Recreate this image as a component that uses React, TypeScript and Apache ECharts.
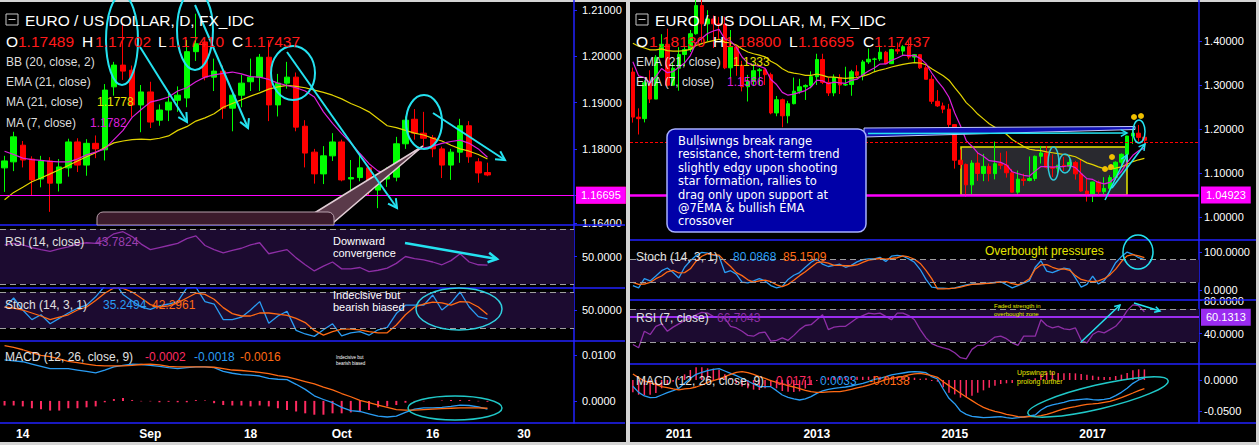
import React, { useEffect, useRef } from 'react';
import * as echarts from 'echarts';

const FONT = '"Liberation Sans", Arial, Helvetica, sans-serif';

// ---------------- DAILY (left) ----------------
const dailyDates = [
  '2017-08-10','2017-08-11','2017-08-14','2017-08-15','2017-08-16','2017-08-17','2017-08-18','2017-08-21','2017-08-22','2017-08-23',
  '2017-08-24','2017-08-25','2017-08-28','2017-08-29','2017-08-30','2017-08-31','2017-09-01','2017-09-04','2017-09-05','2017-09-06',
  '2017-09-07','2017-09-08','2017-09-11','2017-09-12','2017-09-13','2017-09-14','2017-09-15','2017-09-18','2017-09-19','2017-09-20',
  '2017-09-21','2017-09-22','2017-09-25','2017-09-26','2017-09-27','2017-09-28','2017-09-29','2017-10-02','2017-10-03','2017-10-04',
  '2017-10-05','2017-10-06','2017-10-09','2017-10-10','2017-10-11','2017-10-12','2017-10-13','2017-10-16','2017-10-17','2017-10-18',
  '2017-10-19','2017-10-20','2017-10-23','2017-10-24','2017-10-25','2017-10-26','2017-10-27','2017-10-30','2017-10-31','2017-11-01',
  '2017-11-02','2017-11-03','2017-11-06'
];
const dailyTickLabels: Record<number, string> = { 2: '14', 16: 'Sep', 27: '18', 37: 'Oct', 47: '16', 57: '30' };

// [open, close, low, high]
const dailyCandles = [
  [1.1759,1.1774,1.1707,1.1785],[1.1772,1.1826,1.1752,1.1837],[1.1808,1.1776,1.1760,1.1817],[1.1778,1.1733,1.1700,1.1784],
  [1.1735,1.1774,1.1717,1.1785],[1.1774,1.1726,1.1664,1.1782],[1.1726,1.1761,1.1708,1.1778],[1.1759,1.1815,1.1740,1.1822],
  [1.1815,1.1765,1.1750,1.1823],[1.1765,1.1812,1.1742,1.1821],[1.1812,1.1800,1.1780,1.1829],[1.1798,1.1927,1.1775,1.1940],
  [1.1934,1.1981,1.1915,1.1988],[1.1981,1.1968,1.1949,1.2068],[1.1970,1.1895,1.1869,1.1980],[1.1895,1.1923,1.1836,1.1938],
  [1.1923,1.1858,1.1845,1.1945],[1.1862,1.1884,1.1850,1.1896],[1.1884,1.1901,1.1860,1.1925],[1.1905,1.1916,1.1880,1.1935],
  [1.1910,1.2010,1.1890,1.2035],[1.2010,1.2027,1.1990,1.2092],[1.2031,1.1955,1.1948,1.2035],[1.1955,1.1968,1.1925,1.1995],
  [1.1968,1.1888,1.1865,1.1980],[1.1888,1.1916,1.1838,1.1925],[1.1916,1.1942,1.1890,1.1960],[1.1945,1.1955,1.1925,1.1995],
  [1.1955,1.1998,1.1925,1.2005],[1.1998,1.1895,1.1860,1.2035],[1.1895,1.1942,1.1870,1.1962],[1.1942,1.1955,1.1930,1.1988],
  [1.1955,1.1847,1.1838,1.1965],[1.1849,1.1791,1.1760,1.1862],[1.1793,1.1746,1.1725,1.1800],[1.1746,1.1785,1.1724,1.1806],
  [1.1785,1.1815,1.1774,1.1834],[1.1815,1.1733,1.1730,1.1820],[1.1735,1.1738,1.1696,1.1776],[1.1738,1.1759,1.1730,1.1791],
  [1.1759,1.1710,1.1700,1.1763],[1.1711,1.1727,1.1672,1.1740],[1.1735,1.1741,1.1718,1.1760],[1.1739,1.1811,1.1730,1.1826],
  [1.1811,1.1862,1.1800,1.1870],[1.1864,1.1834,1.1820,1.1886],[1.1834,1.1823,1.1805,1.1880],[1.1824,1.1800,1.1782,1.1830],
  [1.1800,1.1765,1.1737,1.1805],[1.1765,1.1793,1.1733,1.1800],[1.1793,1.1850,1.1770,1.1865],[1.1850,1.1783,1.1770,1.1860],
  [1.1772,1.1748,1.1727,1.1780],[1.17489,1.17437,1.17410,1.17702]
];
const dailyMA21 = [1.1690,1.1706,1.1717,1.1729,1.1737,1.1746,1.1755,1.1764,1.1774,1.1783,1.1792,1.1803,1.1813,1.1817,1.1820,1.1821,1.1820,1.1823,1.1828,1.1840,1.1848,1.1860,1.1867,1.1876,1.1890,1.1898,1.1906,1.1914,1.1921,1.1929,1.1934,1.1937,1.1935,1.1932,1.1927,1.1922,1.1916,1.1908,1.1898,1.1890,1.1880,1.1865,1.1850,1.1846,1.1840,1.1834,1.1830,1.1823,1.1817,1.1808,1.1800,1.1795,1.1788,1.1778];
const dailyMA7 = [1.1795,1.1788,1.1780,1.1777,1.1775,1.1773,1.1772,1.1772,1.1778,1.1787,1.1793,1.1800,1.1820,1.1840,1.1868,1.1885,1.1901,1.1906,1.1912,1.1925,1.1932,1.1945,1.1955,1.1960,1.1963,1.1966,1.1962,1.1956,1.1955,1.1950,1.1942,1.1937,1.1932,1.1925,1.1912,1.1880,1.1855,1.1833,1.1813,1.1790,1.1768,1.1752,1.1748,1.1762,1.1780,1.1795,1.1802,1.1806,1.1812,1.1816,1.1819,1.1812,1.1800,1.1782];
const dailyRSI = [58.5,59.5,58.5,56.5,55,53.8,55.5,57,59,60,59.5,62,66.5,68,64.5,59,55,56.5,58,59.5,63,65,58,55,52.7,54.5,56,58.5,60,52,53.5,55,49,44,39.5,43,46,41,41,42,39,40,41.5,45,50,48.5,47.5,46,44,47,52,46,44,43.7824];
const dailyStochK = [54,70,50,34,42,27,36,45,53,58,72,90,98,76,65,55,51,57,60,64,87,88,64,60,34,34,38,50,64,28,40,48,16,10,6,17,27,7,12,14,8,17,21,44,58,58,58,75,50,62,80,55,39,35.2494];
const dailyStochD = [55,53,50,45,40,34,38,42,50,55,66,78,87,86,80,70,59,55,57,62,70,78,76,68,54,44,40,40,45,45,43,41,36,29,16,8,14,18,18,17,14,12,12,25,42,55,60,63,62,58,64,63,55,42.2961];
const dailyMACD = [0.0089,0.0087,0.0085,0.0080,0.0075,0.0070,0.0070,0.0070,0.0067,0.0064,0.0061,0.0067,0.0074,0.0077,0.0080,0.0079,0.0077,0.0075,0.0072,0.0070,0.0072,0.0074,0.0074,0.0072,0.0064,0.0060,0.0057,0.0056,0.0054,0.0049,0.0047,0.0046,0.0036,0.0025,0.0011,0.0003,-0.0004,-0.0014,-0.0021,-0.0023,-0.0028,-0.0033,-0.0035,-0.0033,-0.0025,-0.0018,-0.0015,-0.0015,-0.0014,-0.0012,-0.0009,-0.0010,-0.0013,-0.0018];
const dailySignal = [0.0120,0.0116,0.0111,0.0105,0.0099,0.0096,0.0091,0.0086,0.0083,0.0080,0.0077,0.0076,0.0076,0.0076,0.0077,0.0079,0.0080,0.0078,0.0075,0.0074,0.0074,0.0074,0.0074,0.0073,0.0070,0.0067,0.0066,0.0064,0.0062,0.0059,0.0055,0.0052,0.0047,0.0042,0.0037,0.0030,0.0024,0.0016,0.0009,0.0001,-0.0004,-0.0009,-0.0014,-0.0019,-0.0020,-0.0020,-0.0019,-0.0018,-0.0017,-0.0016,-0.0015,-0.0015,-0.0015,-0.0016];
const dailyHist = [-0.0010,-0.0010,-0.0012,-0.0016,-0.0018,-0.0021,-0.0021,-0.0016,-0.0016,-0.0014,-0.0012,-0.0003,0.0004,0.0006,0.0002,-0.0001,-0.0001,-0.0003,-0.0002,-0.0003,-0.0003,0.0002,0.0001,-0.0005,-0.0009,-0.0010,-0.0010,-0.0012,-0.0010,-0.0012,-0.0016,-0.0020,-0.0023,-0.0027,-0.0030,-0.0030,-0.0027,-0.0027,-0.0025,-0.0023,-0.0020,-0.0014,-0.0012,-0.0009,-0.0004,-0.0002,-0.0001,0,0.0001,0.0002,0.0002,0.0002,-0.0001,-0.0002];

// ---------------- MONTHLY (right) ----------------
const monthlyDates: string[] = [];
for (let k = 0; k < 99; k++) {
  const y = 2010 + Math.floor((4 + k) / 12);
  const m = ((4 + k) % 12) + 1;
  monthlyDates.push(`${y}-${m < 10 ? '0' + m : m}`);
}
const monthlyTickLabels: Record<number, string> = { 8: '2011', 32: '2013', 56: '2015', 80: '2017' };

const monthlyCandles = [
  [1.3295,1.2270,1.2145,1.3395],[1.2270,1.2235,1.1875,1.2470],[1.2235,1.3050,1.2150,1.3105],[1.3050,1.2680,1.2590,1.3335],
  [1.2680,1.3630,1.2680,1.3680],[1.3630,1.3925,1.3620,1.4155],[1.3925,1.2995,1.2970,1.4280],[1.2995,1.3380,1.3000,1.3500],
  [1.3380,1.3695,1.2870,1.3860],[1.3695,1.3805,1.3430,1.3860],[1.3805,1.4165,1.3750,1.4250],[1.4165,1.4805,1.4145,1.4940],
  [1.4805,1.4390,1.3965,1.4940],[1.4390,1.4500,1.4000,1.4700],[1.4500,1.4390,1.3840,1.4580],[1.4390,1.4375,1.4050,1.4550],
  [1.4375,1.3390,1.3360,1.4550],[1.3390,1.3860,1.3145,1.4250],[1.3860,1.3445,1.3210,1.3870],[1.3445,1.2960,1.2855,1.3550],
  [1.2960,1.3080,1.2625,1.3230],[1.3080,1.3325,1.2975,1.3485],[1.3325,1.3345,1.3000,1.3385],[1.3345,1.3235,1.3000,1.3360],
  [1.3235,1.2365,1.2335,1.3280],[1.2365,1.2665,1.2290,1.2750],[1.2665,1.2300,1.2040,1.2690],[1.2300,1.2575,1.2130,1.2640],
  [1.2575,1.2860,1.2560,1.3170],[1.2860,1.2960,1.2800,1.3140],[1.2960,1.2990,1.2660,1.3015],[1.2990,1.3190,1.2925,1.3310],
  [1.3190,1.3580,1.3000,1.3710],[1.3580,1.3060,1.3020,1.3710],[1.3060,1.2820,1.2750,1.3160],[1.2820,1.3170,1.2745,1.3240],
  [1.3170,1.3000,1.2795,1.3245],[1.3000,1.3010,1.2980,1.3415],[1.3010,1.3300,1.2755,1.3345],[1.3300,1.3220,1.3175,1.3450],
  [1.3220,1.3525,1.3105,1.3570],[1.3525,1.3585,1.3480,1.3830],[1.3585,1.3590,1.3295,1.3620],[1.3590,1.3745,1.3545,1.3895],
  [1.3745,1.3485,1.3475,1.3775],[1.3485,1.3805,1.3475,1.3825],[1.3805,1.3770,1.3705,1.3965],[1.3770,1.3870,1.3675,1.3905],
  [1.3870,1.3635,1.3585,1.3995],[1.3635,1.3690,1.3505,1.3700],[1.3690,1.3390,1.3365,1.3700],[1.3390,1.3130,1.3130,1.3445],
  [1.3130,1.2630,1.2570,1.3220],[1.2630,1.2525,1.2500,1.2885],[1.2525,1.2450,1.2360,1.2600],[1.2450,1.2100,1.2035,1.2570],
  [1.2100,1.1290,1.1100,1.2105],[1.1290,1.1195,1.1100,1.1535],[1.1195,1.0730,1.0460,1.1215],[1.0730,1.1225,1.0520,1.1290],
  [1.1225,1.0990,1.0820,1.1465],[1.0990,1.1150,1.0815,1.1435],[1.1150,1.0985,1.0810,1.1215],[1.0985,1.1210,1.0855,1.1715],
  [1.1210,1.1175,1.1085,1.1460],[1.1175,1.1005,1.0895,1.1495],[1.1005,1.0565,1.0560,1.1090],[1.0565,1.0860,1.0525,1.1055],
  [1.0860,1.0830,1.0710,1.0985],[1.0830,1.0875,1.0810,1.1375],[1.0875,1.1380,1.0820,1.1395],[1.1380,1.1455,1.1215,1.1615],
  [1.1455,1.1130,1.1100,1.1615],[1.1130,1.1105,1.0910,1.1425],[1.1105,1.1175,1.0950,1.1185],[1.1175,1.1155,1.1045,1.1365],
  [1.1155,1.1240,1.1120,1.1325],[1.1240,1.0980,1.0850,1.1275],[1.0980,1.0590,1.0570,1.1300],[1.0590,1.0520,1.0350,1.0875],
  [1.0520,1.0795,1.0340,1.0800],[1.0795,1.0575,1.0495,1.0830],[1.0575,1.0650,1.0495,1.0905],[1.0650,1.0895,1.0570,1.0950],
  [1.0895,1.1245,1.0840,1.1265],[1.1245,1.1425,1.1120,1.1445],[1.1425,1.1840,1.1310,1.1845],[1.1840,1.1905,1.1660,1.2070],
  [1.1905,1.1810,1.1715,1.2092],[1.18130,1.17437,1.16695,1.18800]
];
const monthlyEMA21 = [1.395,1.388,1.384,1.380,1.380,1.382,1.378,1.377,
  1.377,1.378,1.381,1.390,1.394,1.398,1.401,1.404,1.397,1.396,1.391,1.382,
  1.375,1.371,1.368,1.364,1.354,1.347,1.337,1.330,1.327,1.325,1.322,1.322,
  1.325,1.322,1.318,1.318,1.316,1.315,1.316,1.317,1.320,1.324,1.330,1.334,
  1.337,1.341,1.344,1.347,1.349,1.351,1.350,1.346,1.337,1.329,1.321,1.311,
  1.294,1.278,1.260,1.248,1.234,1.223,1.212,1.204,1.196,1.188,1.176,1.168,
  1.160,1.154,1.152,1.151,1.148,1.146,1.144,1.142,1.140,1.137,1.130,1.123,
  1.119,1.114,1.110,1.109,1.111,1.114,1.120,1.126,1.130,1.1333];
const monthlyEMA7 = [1.3530,1.3207,1.3168,1.3046,1.3192,1.3375,1.3280,1.3305,
  1.3403,1.3503,1.3669,1.3953,1.4062,1.4172,1.4227,1.4264,1.4046,1.3999,1.3861,1.3636,
  1.3497,1.3454,1.3427,1.3379,1.3125,1.3010,1.2833,1.2769,1.2792,1.2834,1.2873,1.2953,
  1.3110,1.3097,1.3028,1.3064,1.3048,1.3039,1.3104,1.3133,1.3231,1.3319,1.3387,1.3476,
  1.3478,1.3560,1.3613,1.3678,1.3668,1.3674,1.3604,1.3486,1.3273,1.3086,1.2928,1.2721,
  1.2364,1.2072,1.1737,1.1609,1.1455,1.1379,1.1280,1.1263,1.1241,1.1182,1.1028,1.0986,
  1.0948,1.0930,1.1043,1.1146,1.1143,1.1133,1.1144,1.1147,1.1170,1.1123,1.0990,1.0873,
  1.0854,1.0785,1.0752,1.0788,1.0902,1.1033,1.1235,1.1402,1.1505,1.1566];
const monthlyStochK = [12,6,30,24,37,51,58,46,32,60,77,91,99,97,92,89,46,51,42,21,19,24,30,24,12,6,10,28,39,46,60,73,82,68,62,65,68,60,65,74,80,82,82,86,75,89,91,89,82,73,54,28,8,
  6,5,4,6,10,14,16,16,17,19,20,22,14,6,12,18,25,60,77,50,46,52,58,55,32,8,15,37,16,25,45,72,88,100,94,85,80.0868];
const monthlyStochD = [20,15,16,20,30,37,48,52,45,46,56,76,89,96,93,92,76,62,46,38,27,21,24,26,22,14,9,15,26,38,48,60,72,74,71,65,65,64,64,66,73,79,81,83,81,83,85,90,87,81,70,52,30,
  3,3,4,5,8,12,15,16,17,18,20,21,22,17,14,20,30,55,66,67,60,55,56,52,38,28,24,22,24,30,40,55,75,90,93,90,85.1509];
const monthlyRSI = [27,23,43,39,49,52,43,48,52,56,59,63,66,65,61,60,59,49,47,43,38,37,41,42,31,32,35,32,38,45,50,51,57,63,45,48,49,49,54,59,62,65,64,65,61,57,65,65,62,57,45,35,28,25,23,21,17,11,9.5,21,26,26,31,36,37,34,29,26,37,37,37,57,50,47,49,46,45,47,32,29,39,43,41,45,49,57,68,75,74,66.7043];
const monthlyMACD = [-0.0100,-0.0200,-0.0258,-0.0285,-0.0280,-0.0242,-0.0205,-0.0172,-0.0134,-0.0054,
  0.0027,0.0091,0.0124,0.0150,0.0172,0.0182,0.0145,0.0108,0.0070,0.0027,
  -0.0016,-0.0064,-0.0108,-0.0108,-0.0108,-0.0172,-0.0242,-0.0280,-0.0306,-0.0323,
  -0.0306,-0.0269,-0.0215,-0.0177,-0.0150,-0.0134,-0.0124,-0.0113,-0.0097,-0.0075,
  -0.0054,-0.0027,0.0011,0.0027,0.0054,0.0081,0.0097,0.0113,0.0129,0.0134,
  0.0129,0.0118,0.0054,0.0016,-0.0145,-0.0296,-0.0382,-0.0500,-0.0554,-0.0586,
  -0.0597,-0.0608,-0.0602,-0.0597,-0.0592,-0.0608,-0.0618,-0.0608,-0.0597,-0.0581,
  -0.0565,-0.0484,-0.0430,-0.0403,-0.0382,-0.0360,-0.0333,-0.0323,-0.0312,-0.0306,
  -0.0317,-0.0323,-0.0312,-0.0296,-0.0253,-0.0199,-0.0134,-0.0054,0.0000,0.0033];
const monthlySignal = [0.0097,0.0038,-0.0016,-0.0048,-0.0070,-0.0108,-0.0124,-0.0145,-0.0161,-0.0145,
  -0.0134,-0.0113,-0.0081,-0.0038,-0.0011,0.0016,0.0054,0.0091,0.0124,0.0134,
  0.0118,0.0091,0.0054,0.0027,-0.0011,-0.0038,-0.0064,-0.0091,-0.0113,-0.0140,
  -0.0167,-0.0188,-0.0199,-0.0199,-0.0193,-0.0188,-0.0188,-0.0172,-0.0150,-0.0129,
  -0.0108,-0.0081,-0.0054,-0.0027,0.0005,0.0027,0.0043,0.0059,0.0081,0.0097,
  0.0108,0.0091,0.0070,0.0043,-0.0027,-0.0091,-0.0150,-0.0215,-0.0274,-0.0333,
  -0.0392,-0.0441,-0.0478,-0.0505,-0.0527,-0.0554,-0.0570,-0.0592,-0.0597,-0.0592,
  -0.0592,-0.0575,-0.0554,-0.0527,-0.0495,-0.0468,-0.0446,-0.0430,-0.0409,-0.0392,
  -0.0387,-0.0376,-0.0360,-0.0344,-0.0317,-0.0285,-0.0247,-0.0210,-0.0172,-0.0138];
const monthlyHist = [-0.0197,-0.0238,-0.0242,-0.0237,-0.0210,-0.0134,-0.0081,-0.0027,0.0027,0.0091,
  0.0161,0.0204,0.0205,0.0188,0.0183,0.0166,0.0091,0.0017,-0.0054,-0.0107,
  -0.0134,-0.0155,-0.0162,-0.0135,-0.0097,-0.0134,-0.0178,-0.0189,-0.0193,-0.0183,
  -0.0139,-0.0081,-0.0016,0.0022,0.0043,0.0054,0.0064,0.0059,0.0053,0.0054,
  0.0054,0.0054,0.0065,0.0054,0.0049,0.0054,0.0054,0.0054,0.0048,0.0037,
  0.0021,0.0027,-0.0016,-0.0027,-0.0118,-0.0205,-0.0232,-0.0285,-0.0280,-0.0253,
  -0.0205,-0.0167,-0.0124,-0.0092,-0.0065,-0.0054,-0.0048,-0.0016,0.0000,0.0011,
  0.0027,0.0091,0.0124,0.0124,0.0113,0.0108,0.0113,0.0107,0.0097,0.0086,
  0.0070,0.0053,0.0048,0.0048,0.0064,0.0086,0.0113,0.0156,0.0172,0.0171];

// ---------------- colours ----------------
const UP = '#00ff00';
const DOWN = '#ff0000';
const YEL = '#e3d400';
const MAG = '#dc1fdc';
const BLUE = '#2a9df4';
const ORANGE = '#ff6a14';
const PURPLE = '#8e2ea6';
const HIST = '#ff2a60';
const AXIS = '#2222ff';
const CYAN = '#24e2f0';
const BAND = '#1c0b30';
const DASH = '#a0a0a0';

function xax(gridIndex: number, data: string[], labels?: Record<number, string>) {
  return {
    type: 'category', gridIndex, data, boundaryGap: true,
    axisLine: { show: false }, axisTick: { show: false }, splitLine: { show: false },
    axisLabel: labels ? {
      show: true,
      interval: (i: number) => labels[i] !== undefined,
      formatter: (_v: string, i: number) => labels[i] ?? '',
      color: '#ffffff', fontWeight: 'bold', fontSize: 12, fontFamily: FONT, margin: 5,
    } : { show: false },
  };
}
function yax(gridIndex: number, min: number, max: number, labels: number[], digits: number, margin: number) {
  return {
    type: 'value', gridIndex, position: 'right', min, max,
    axisLine: { show: true, onZero: false, lineStyle: { color: AXIS, width: 1.5 } },
    axisTick: { show: true, length: 3, lineStyle: { color: AXIS }, customValues: labels },
    splitLine: { show: false },
    axisLabel: { show: true, customValues: labels, formatter: (v: number) => v.toFixed(digits), color: '#ffffff', fontSize: 11, fontFamily: FONT, margin },
  };
}
function endLabel(text: string, bg: string) {
  return { show: true, position: 'end', formatter: text, color: '#ffffff', backgroundColor: bg, padding: [3, 5], fontSize: 11, fontFamily: FONT, distance: 2 };
}
function bandMarks(lo: number, hi: number) {
  return {
    markArea: { silent: true, itemStyle: { color: BAND }, data: [[{ yAxis: lo }, { yAxis: hi }]] },
    markLine: {
      silent: true, symbol: ['none', 'none'], animation: false,
      lineStyle: { color: DASH, type: [6, 4], width: 1 }, label: { show: false },
      data: [{ yAxis: lo }, { yAxis: hi }],
    },
  };
}
function line(x: number, data: number[], color: string, width = 1.2, extra: any = {}) {
  return { type: 'line', xAxisIndex: x, yAxisIndex: x, data, symbol: 'none', silent: true, lineStyle: { color, width }, ...extra };
}

// ---------------- graphic helpers ----------------
function txt(x: number, y: number, text: string, fill: string, size = 12, extra: any = {}) {
  return {
    type: 'text', x, y, z: 70, silent: true,
    style: { text, fill, font: `${size}px ${FONT}`, textAlign: 'left', textVerticalAlign: 'middle', verticalAlign: 'middle', ...extra },
  };
}
function ell(cx: number, cy: number, rx: number, ry: number, color = CYAN, lw = 2, extra: any = {}) {
  return { type: 'ellipse', z: 60, silent: true, shape: { cx, cy, rx, ry }, style: { fill: 'none', stroke: color, lineWidth: lw }, ...extra };
}
function arrow(x1: number, y1: number, x2: number, y2: number, color = CYAN, lw = 2, head = 10, spread = 0.5) {
  const a = Math.atan2(y2 - y1, x2 - x1);
  const p1 = [x2 - head * Math.cos(a - spread), y2 - head * Math.sin(a - spread)];
  const p2 = [x2 - head * Math.cos(a + spread), y2 - head * Math.sin(a + spread)];
  return [
    { type: 'line', z: 60, silent: true, shape: { x1, y1, x2, y2 }, style: { stroke: color, lineWidth: lw } },
    { type: 'polyline', z: 60, silent: true, shape: { points: [p1, [x2, y2], p2] }, style: { stroke: color, lineWidth: lw, fill: 'none' } },
  ];
}
function hline(x1: number, x2: number, y: number) {
  return { type: 'line', z: 5, silent: true, shape: { x1, y1: y, x2, y2: y }, style: { stroke: AXIS, lineWidth: 1.5 } };
}
function icon(x: number, y: number) {
  return [
    { type: 'rect', z: 70, silent: true, shape: { x, y, width: 12, height: 11 }, style: { fill: 'none', stroke: '#c8c8c8', lineWidth: 1 } },
    { type: 'line', z: 70, silent: true, shape: { x1: x + 2.5, y1: y + 5.5, x2: x + 9.5, y2: y + 5.5 }, style: { stroke: '#c8c8c8', lineWidth: 1 } },
  ];
}

const calloutLines = [
  'Bullsiwngs break range',
  'resistance, short-term trend',
  'slightly edgy upon shooting',
  'star formation, rallies to',
  'drag only upon support at',
  '@7EMA & bullish EMA',
  'crossover',
];

export default function App() {
  const ref = useRef<HTMLDivElement>(null);
  useEffect(() => {
    if (!ref.current) return;
    const chart = echarts.init(ref.current, null, { renderer: 'svg' });
    const graphic: any[] = [
      // pane separators
      hline(0, 625, 225), hline(0, 625, 288), hline(0, 625, 341), hline(0, 625, 423),
      hline(630, 1256, 240), hline(630, 1256, 300), hline(630, 1256, 364), hline(630, 1256, 423),
      // ---- left price annotations
      ell(122, 40, 16, 45), ...arrow(140, 47, 187, 122),
      ell(195, 30, 18, 40), ...arrow(195, 5, 248, 128),
      ell(293, 73, 22, 27), ...arrow(287, 52, 397, 208),
      ell(424, 122, 18, 27), ...arrow(433, 113, 505, 160),
      { type: 'polygon', z: 40, silent: true, shape: { points: [[316, 212], [423, 146], [334, 222]] }, style: { fill: '#5a3a4a', stroke: '#e0ccd4', lineWidth: 1.5 } },
      { type: 'rect', z: 41, silent: true, shape: { x: 97, y: 212, width: 237, height: 13, r: [6, 6, 0, 0] }, style: { fill: '#3b1b2b', stroke: '#b8a0ac', lineWidth: 1 } },
      // left oscillator notes
      txt(333, 240.5, 'Downward', '#ffffff', 11), txt(333, 253, 'convergence', '#ffffff', 11),
      ...arrow(405, 243, 497, 259, CYAN, 2.5, 10),
      txt(333, 294.5, 'Indecisive but', '#ffffff', 11), txt(333, 307, 'bearish biased', '#ffffff', 11),
      ell(459, 309, 43, 21, '#2fd0e0', 1.5),
      txt(336, 357.5, 'Indecisive but', '#ffffff', 4.5), txt(336, 363, 'bearish biased', '#ffffff', 4.5),
      ell(455, 408, 47, 12, '#20c8c8', 1.5),
      // left legends
      ...icon(6, 14),
      txt(25, 20, 'EURO / US DOLLAR, D, FX_IDC', '#ffffff', 15.5),
      txt(6, 41.5, 'O', '#ffffff', 15.5), txt(18, 41.5, '1.17489', '#ff1a1a', 15.5),
      txt(82, 41.5, 'H', '#ffffff', 15.5), txt(95, 41.5, '1.17702', '#ff1a1a', 15.5),
      txt(158, 41.5, 'L', '#ffffff', 15.5), txt(168, 41.5, '1.17410', '#ff1a1a', 15.5),
      txt(232, 41.5, 'C', '#ffffff', 15.5), txt(244, 41.5, '1.17437', '#ff1a1a', 15.5),
      txt(6, 62, 'BB (20, close, 2)', '#dcdcdc', 12),
      txt(6, 82, 'EMA (21, close)', '#dcdcdc', 12),
      txt(6, 102, 'MA (21, close)', '#dcdcdc', 12), txt(97, 102, '1.1778', '#e8e000', 12),
      txt(6, 123, 'MA (7, close)', '#dcdcdc', 12), txt(90, 123, '1.1782', MAG, 12),
      txt(5, 242, 'RSI (14, close)', '#e0e0e0', 12), txt(95, 242, '43.7824', '#9b3fb0', 12),
      txt(5, 305, 'Stoch (14, 3, 1)', '#e0e0e0', 12), txt(103, 305, '35.2494', BLUE, 12), txt(152, 305, '42.2961', ORANGE, 12),
      txt(5, 357, 'MACD (12, 26, close, 9)', '#e0e0e0', 12), txt(145, 357, '-0.0002', HIST, 12), txt(194, 357, '-0.0018', BLUE, 12), txt(240, 357, '-0.0016', ORANGE, 12),
      // ---- right price annotations
      { type: 'rect', z: 1, silent: true, shape: { x: 961, y: 147, width: 166, height: 48 }, style: { fill: 'rgba(75,75,85,0.55)', stroke: '#e8e800', lineWidth: 1.5 } },
      { type: 'polygon', z: 40, silent: true, shape: { points: [[864, 128], [1135, 126.5], [1135, 129.5], [864, 137]] }, style: { fill: '#1010b0', stroke: '#c0c8ff', lineWidth: 1 } },
      { type: 'rect', z: 41, silent: true, shape: { x: 667, y: 129, width: 199, height: 103, r: 8 }, style: { fill: '#0000a8', stroke: '#a8b0ff', lineWidth: 1.5 } },
      ...calloutLines.map((s, k) => ({
        type: 'text', z: 70, silent: true, x: 678, y: 141 + k * 13.4,
        style: { text: s, fill: '#ffffff', font: '11.5px "DejaVu Sans", Verdana, sans-serif', textAlign: 'left', textVerticalAlign: 'middle', verticalAlign: 'middle' },
      })),
      ...arrow(868, 133.5, 1127, 133, CYAN, 1.5, 7),
      ell(1139, 131.5, 6, 11.5, CYAN, 1.5),
      ell(1053.5, 163.5, 5.5, 16.5, '#2fc8d8', 1.5), ell(1065, 163.5, 6, 9.5, '#2fc8d8', 1.5),
      ...[[1134, 117], [1141, 116], [1112, 157], [1111, 167], [1105, 169]].map(([cx, cy]) => ({ type: 'circle', z: 60, silent: true, shape: { cx, cy, r: 3 }, style: { fill: '#f0c000' } })),
      ...arrow(1105, 200, 1127, 155, CYAN, 1.5, 7), ...arrow(1112, 188, 1145, 144, CYAN, 1.5, 7),
      // right oscillator notes
      txt(985, 251, 'Overbought pressures', '#e6e600', 12),
      ell(1138, 252, 15, 17, CYAN, 1.5),
      txt(994, 306, 'Faded strength in', '#e6e600', 6), txt(994, 313.5, 'overbought zone', '#e6e600', 6),
      ...arrow(1081, 342, 1120, 305, CYAN, 1.5, 6), ...arrow(1134, 303, 1160, 311, CYAN, 1.5, 6),
      txt(1017, 372, 'Upswings to', '#e6e600', 7), txt(1017, 381, 'prolong further', '#e6e600', 7),
      { type: 'ellipse', z: 60, silent: true, x: 1098, y: 397, rotation: 0.23, shape: { cx: 0, cy: 0, rx: 72, ry: 12 }, style: { fill: 'none', stroke: '#20c8c8', lineWidth: 1.5 } },
      // right legends
      ...icon(636, 14),
      txt(655, 20, 'EURO / US DOLLAR, M, FX_IDC', '#ffffff', 15.5),
      txt(636, 41.5, 'O', '#ffffff', 15.5), txt(649, 41.5, '1.18130', '#ff1a1a', 15.5),
      txt(713, 41.5, 'H', '#ffffff', 15.5), txt(725, 41.5, '1.18800', '#ff1a1a', 15.5),
      txt(789, 41.5, 'L', '#ffffff', 15.5), txt(798, 41.5, '1.16695', '#ff1a1a', 15.5),
      txt(863, 41.5, 'C', '#ffffff', 15.5), txt(874, 41.5, '1.17437', '#ff1a1a', 15.5),
      txt(636, 62, 'EMA (21, close)', '#dcdcdc', 12), txt(733, 62, '1.1333', '#e8e000', 12),
      txt(636, 82, 'EMA (7, close)', '#dcdcdc', 12), txt(727, 82, '1.1566', MAG, 12),
      txt(636, 257, 'Stoch (14, 3, 1)', '#e0e0e0', 12), txt(733, 257, '80.0868', BLUE, 12), txt(783, 257, '85.1509', ORANGE, 12),
      txt(636, 318, 'RSI (7, close)', '#e0e0e0', 12), txt(717, 318, '66.7043', PURPLE, 12),
      txt(636, 381, 'MACD (12, 26, close, 9)', '#e0e0e0', 12), txt(776, 381, '0.0171', HIST, 12), txt(820, 381, '0.0033', BLUE, 12), txt(869, 381, '-0.0138', ORANGE, 12),
    ];

    const option: any = {
      animation: false,
      backgroundColor: 'transparent',
      textStyle: { fontFamily: 'Liberation Sans' },
      grid: [
        { left: 0, top: 0, width: 574, height: 225 },
        { left: 0, top: 225, width: 574, height: 63 },
        { left: 0, top: 288, width: 574, height: 53 },
        { left: 0, top: 341, width: 574, height: 82 },
        { left: 630, top: 0, width: 569, height: 240 },
        { left: 630, top: 240, width: 569, height: 60 },
        { left: 630, top: 300, width: 569, height: 64 },
        { left: 630, top: 364, width: 569, height: 59 },
      ],
      xAxis: [
        xax(0, dailyDates), xax(1, dailyDates), xax(2, dailyDates), xax(3, dailyDates, dailyTickLabels),
        xax(4, monthlyDates), xax(5, monthlyDates), xax(6, monthlyDates), xax(7, monthlyDates, monthlyTickLabels),
      ],
      yAxis: [
        yax(0, 1.16356, 1.21216, [1.164, 1.17, 1.18, 1.19, 1.2, 1.21], 5, 8),
        yax(1, 27.1, 72.9, [50], 4, 8),
        yax(2, -1.7, 86.7, [50], 4, 8),
        yax(3, -0.0048, 0.0130, [0, 0.01], 4, 8),
        yax(4, 0.9477, 1.4932, [1.0, 1.1, 1.2, 1.3, 1.4], 5, 5),
        yax(5, -26, 131.6, [0, 100], 4, 5),
        yax(6, 3.3, 80.9, [40, 80], 4, 5),
        yax(7, -0.0694, 0.0258, [-0.05, 0], 4, 5),
      ],
      series: [
        {
          type: 'candlestick', xAxisIndex: 0, yAxisIndex: 0, data: dailyCandles, barWidth: 6, silent: true,
          itemStyle: { color: UP, color0: DOWN, borderColor: UP, borderColor0: DOWN, borderWidth: 1 },
          markLine: {
            silent: true, symbol: ['none', 'none'], animation: false,
            data: [
              { yAxis: 1.17437, lineStyle: { color: '#ff0000', type: [3, 2], width: 1 }, label: endLabel('1.17437', '#ff0000') },
              { yAxis: 1.16695, lineStyle: { color: '#ff00ff', type: 'solid', width: 1 }, label: endLabel('1.16695', '#ff00ff') },
            ],
          },
        },
        line(0, dailyMA21, YEL, 1.2),
        line(0, dailyMA7, MAG, 1.2),
        line(1, dailyRSI, PURPLE, 1.3, bandMarks(30, 70)),
        line(2, dailyStochK, BLUE, 1.3, bandMarks(20, 80)),
        line(2, dailyStochD, ORANGE, 1.3),
        { type: 'bar', xAxisIndex: 3, yAxisIndex: 3, data: dailyHist, barWidth: 2, silent: true, itemStyle: { color: HIST } },
        line(3, dailyMACD, BLUE, 1.3),
        line(3, dailySignal, ORANGE, 1.3),
        {
          type: 'candlestick', xAxisIndex: 4, yAxisIndex: 4, data: monthlyCandles, barWidth: 4, silent: true,
          itemStyle: { color: UP, color0: DOWN, borderColor: UP, borderColor0: DOWN, borderWidth: 1 },
          markLine: {
            silent: true, symbol: ['none', 'none'], animation: false,
            data: [
              { yAxis: 1.17437, lineStyle: { color: '#ff0000', type: [3, 2], width: 1 }, label: { show: false } },
              { yAxis: 1.04923, lineStyle: { color: '#ff00ff', type: 'solid', width: 2.5 }, label: endLabel('1.04923', '#ff00ff') },
            ],
          },
        },
        line(4, monthlyEMA21, YEL, 1.2),
        line(4, monthlyEMA7, MAG, 1.2),
        line(5, monthlyStochK, BLUE, 1.3, bandMarks(20, 80)),
        line(5, monthlyStochD, ORANGE, 1.3),
        {
          ...line(6, monthlyRSI, PURPLE, 1.3),
          markArea: { silent: true, itemStyle: { color: BAND }, data: [[{ yAxis: 30 }, { yAxis: 70 }]] },
          markLine: {
            silent: true, symbol: ['none', 'none'], animation: false,
            data: [
              { yAxis: 30, lineStyle: { color: DASH, type: [6, 4], width: 1 }, label: { show: false } },
              { yAxis: 70, lineStyle: { color: DASH, type: [6, 4], width: 1 }, label: { show: false } },
              { yAxis: 60.1313, lineStyle: { color: '#9a2cf0', type: 'solid', width: 2 }, label: endLabel('60.1313', '#9a2cf0') },
            ],
          },
        },
        { type: 'bar', xAxisIndex: 7, yAxisIndex: 7, data: monthlyHist, barWidth: 1.5, silent: true, itemStyle: { color: HIST } },
        line(7, monthlyMACD, BLUE, 1.3),
        line(7, monthlySignal, ORANGE, 1.3),
      ],
      graphic: { elements: graphic },
    };
    chart.setOption(option);
    return () => chart.dispose();
  }, []);

  return (
    <div style={{ position: 'fixed', left: 0, top: 0, width: 1259, height: 445, background: '#d4d4d4' }}>
      <div style={{ position: 'absolute', left: 0, top: 2, width: 626, height: 440, background: '#000' }} />
      <div style={{ position: 'absolute', left: 630, top: 2, width: 626, height: 440, background: '#000' }} />
      <div ref={ref} style={{ position: 'absolute', left: 0, top: 0, width: 1259, height: 445 }} />
    </div>
  );
}
